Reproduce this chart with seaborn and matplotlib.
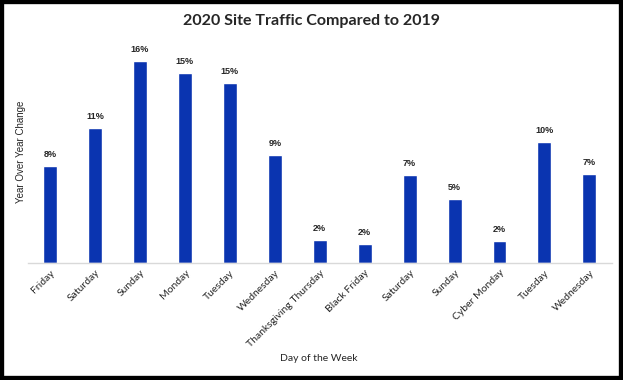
import matplotlib
matplotlib.use("Agg")
import matplotlib.pyplot as plt
import seaborn as sns
import pandas as pd

days = ["Friday", "Saturday", "Sunday", "Monday", "Tuesday", "Wednesday",
        "Thanksgiving Thursday", "Black Friday", "Saturday", "Sunday",
        "Cyber Monday", "Tuesday", "Wednesday"]
yoy_change = [0.0786, 0.1095, 0.1640, 0.1542, 0.1461, 0.0876,
              0.0185, 0.0152, 0.0713, 0.0518, 0.0176, 0.0981, 0.0721]

df = pd.DataFrame({"slot": range(len(days)), "change": yoy_change})

sns.set_theme(style="white")
plt.rcParams['font.family'] = ['Lato', 'DejaVu Sans']

fig = plt.figure(figsize=(6.23, 3.80), dpi=100)
ax = fig.add_axes([0.0445, 0.309, 0.9375, 0.582])

sns.barplot(data=df, x="slot", y="change", color="#0a34b0", saturation=1,
            width=0.31, ax=ax)

ax.bar_label(ax.containers[0], labels=["{:.0%}".format(v) for v in yoy_change],
             padding=5, fontsize=6.5, fontweight="bold",
             family=["Liberation Sans", "DejaVu Sans"])

ax.set_ylim(0, 0.18)
ax.set_xlim(-0.5, len(days) - 0.5)
ax.set_yticks([])
ax.set_xticks(range(len(days)))
ax.set_xticklabels(days, rotation=45, ha="right", rotation_mode="anchor", fontsize=7.5)
ax.tick_params(axis="x", length=0, pad=4)
for s in ["top", "right", "left"]:
    ax.spines[s].set_visible(False)
ax.spines["bottom"].set_color("#d9d9d9")
ax.spines["bottom"].set_linewidth(1)

ax.set_xlabel("")
ax.set_ylabel("")
fig.text(0.511, 0.057, "Day of the Week", ha="center", va="center", fontsize=7.5)
fig.text(0.033, 0.6, "Year Over Year Change", rotation=90, ha="center", va="center",
         fontsize=7, family=["Liberation Sans", "DejaVu Sans"])
fig.text(0.5, 0.945, "2020 Site Traffic Compared to 2019", ha="center", va="center",
         fontsize=11.5, fontweight="bold")

fig.patches.append(plt.Rectangle((0, 0), 1, 1, transform=fig.transFigure, fill=False,
                                 edgecolor="black", linewidth=6))

fig.savefig("out.png", dpi=100)
